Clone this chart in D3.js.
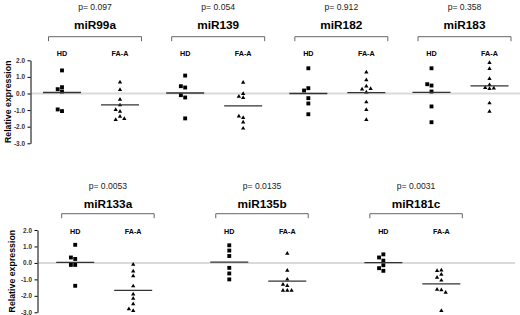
<!DOCTYPE html>
<html>
<head>
<meta charset="utf-8">
<script src="https://cdn.jsdelivr.net/npm/d3@7"></script>
<style>
  body { margin: 0; background: #fff; }
  text { font-family: "Liberation Sans", Arial, Helvetica, sans-serif; }
</style>
</head>
<body>
<div id="container"></div>
<script>
let w = 520;
let h = 315;

// data
let groups = ["HD", "FA-A"];
let yTicks = [2, 1, 0, -1, -2, -3];

let topNames = ["miR99a", "miR139", "miR182", "miR183"];
let topP = ["p= 0.097", "p= 0.054", "p= 0.912", "p= 0.358"];
let topHD = [
  [1.39, 0.38, 0.26, 0.12, -1.06, -0.96],
  [1.08, 0.36, 0.44, -0.24, -0.10, -1.50],
  [1.52, 0.32, 0.18, -0.28, -0.60, -1.25],
  [1.52, 0.48, 0.56, 0.12, -0.78, -1.73]
];
let topFA = [
  [0.68, 0.22, -0.36, -0.70, -1.08, -0.98, -1.39, -1.58, -1.52],
  [0.66, -0.02, -0.18, -0.26, -1.46, -1.37, -1.73, -2.10],
  [1.28, 0.82, 0.44, 0.26, 0.28, 0.08, -0.52, -0.98, -1.58],
  [1.85, 1.49, 0.89, 0.52, 0.28, 0.34, 0.32, -0.58, -1.08]
];
let topHDmean = [0.06, 0.03, 0.0, 0.07];
let topFAmean = [-0.69, -0.75, 0.05, 0.46];

let botNames = ["miR133a", "miR135b", "miR181c"];
let botP = ["p= 0.0053", "p= 0.0135", "p= 0.0031"];
let botHD = [
  [1.10, 0.24, 0.33, -0.12, -0.12, -1.39],
  [1.07, 0.75, 0.42, -0.30, -0.64, -1.00],
  [0.52, 0.33, 0.14, -0.14, -0.32, -0.48]
];
let botFA = [
  [-0.10, -0.50, -0.80, -1.41, -1.90, -2.16, -2.50, -2.90, -2.80],
  [0.57, -0.46, -1.00, -1.39, -1.31, -1.67, -1.67, -1.67],
  [-0.44, -0.48, -0.70, -0.88, -1.06, -1.65, -1.62, -1.80, -2.90]
];
let botHDmean = [0.03, 0.05, 0.02];
let botFAmean = [-1.67, -1.10, -1.27];

let viz = d3.select("#container").append("svg")
    .attr("width", w)
    .attr("height", h)
    .style("display", "block")
    .style("background-color", "white")
;

drawRow({
  names: topNames, pvals: topP, hd: topHD, fa: topFA, hdMean: topHDmean, faMean: topFAmean,
  yRange: [143.3, 60.3], xRange: [48.5, 511], padInner: 0.245,
  axisX: 30.5, zeroEnd: 520, labelX: 8,
  pY: 9.5, titleY: 29, bracketY: 36.7, groupY: 55.7
});

drawRow({
  names: botNames, pvals: botP, hd: botHD, fa: botFA, hdMean: botHDmean, faMean: botFAmean,
  yRange: [312.3, 230], xRange: [61.7, 462.3], padInner: 0.4,
  axisX: 37.5, zeroEnd: 515, labelX: 12,
  pY: 189, titleY: 208.3, bracketY: 213.7, groupY: 234.3
});

function drawRow(cfg){
  let yScale = d3.scaleLinear().domain([-3, 2]).range(cfg.yRange);
  let x0 = d3.scaleBand().domain(cfg.names).range(cfg.xRange).paddingInner(cfg.padInner);
  let x1 = d3.scalePoint().domain(groups).range([13.5, 71.5]);

  let row = viz.append("g");

  // zero line
  row.append("line")
      .attr("x1", cfg.axisX + 0.5).attr("x2", cfg.zeroEnd)
      .attr("y1", yScale(0)).attr("y2", yScale(0))
      .attr("stroke", "#dadada")
      .attr("stroke-width", 2)
  ;

  // y axis
  let yAxis = d3.axisLeft(yScale)
      .tickValues(yTicks)
      .tickFormat(d => d.toFixed(1))
      .tickSize(3)
      .tickSizeOuter(0)
      .tickPadding(2.5);
  let yAxisGroup = row.append("g")
      .attr("transform", "translate(" + cfg.axisX + ",0)")
      .call(yAxis);
  yAxisGroup.selectAll("text")
      .style("font-size", "6.4px")
      .style("font-weight", "bold")
      .attr("fill", "#333");
  yAxisGroup.selectAll("path, line").attr("stroke", "#000");

  row.append("text")
      .attr("transform", "translate(" + cfg.labelX + "," + ((cfg.yRange[0] + cfg.yRange[1]) / 2) + ") rotate(-90)")
      .attr("text-anchor", "middle")
      .attr("dy", "0.35em")
      .style("font-size", "8.8px")
      .style("font-weight", "bold")
      .text("Relative expression");

  cfg.names.forEach(function(name, i){
    let left = x0(name);
    let bw = x0.bandwidth();
    let cx = left + bw / 2;
    let panel = row.append("g").attr("class", "panel");

    panel.append("text")
        .attr("x", cx).attr("y", cfg.pY)
        .attr("text-anchor", "middle")
        .style("font-size", "8.6px")
        .attr("fill", "#222")
        .text(cfg.pvals[i]);

    panel.append("text")
        .attr("x", cx).attr("y", cfg.titleY)
        .attr("text-anchor", "middle")
        .style("font-size", "11.8px")
        .style("font-weight", "bold")
        .text(name);

    // bracket
    panel.append("path")
        .attr("d", "M" + left + "," + (cfg.bracketY + 4.5) + "V" + cfg.bracketY + "H" + (left + bw) + "V" + (cfg.bracketY + 4.5))
        .attr("fill", "none")
        .attr("stroke", "#666")
        .attr("stroke-width", 1);

    let series = [
      {g: "HD", vals: cfg.hd[i], mean: cfg.hdMean[i], shape: d3.symbolSquare, size: 15},
      {g: "FA-A", vals: cfg.fa[i], mean: cfg.faMean[i], shape: d3.symbolTriangle, size: 8}
    ];

    series.forEach(function(s){
      let gx = left + x1(s.g);

      panel.append("text")
          .attr("x", gx).attr("y", cfg.groupY)
          .attr("text-anchor", "middle")
          .style("font-size", "7.2px")
          .style("font-weight", "bold")
          .text(s.g);

      let pts = dodge(s.vals, yScale, 4.3, 3.8);

      panel.selectAll(".pt-" + s.g.replace("-", "")).data(pts).enter()
        .append("path")
          .attr("class", "pt-" + s.g.replace("-", ""))
          .attr("d", d3.symbol().type(s.shape).size(s.size))
          .attr("transform", d => "translate(" + (gx + d.dx) + "," + d.y + ")")
          .attr("fill", "#000")
      ;

      panel.append("line")
          .attr("x1", gx - 19).attr("x2", gx + 19)
          .attr("y1", yScale(s.mean)).attr("y2", yScale(s.mean))
          .attr("stroke", "#333")
          .attr("stroke-width", 1.3);
    });
  });
}

// spread points that would overlap sideways
function dodge(vals, yScale, step, minDy){
  let placed = [];
  let offsets = [0, -1, 1, -2, 2];
  vals.forEach(function(v){
    let y = yScale(v);
    for (let k = 0; k < offsets.length; k++){
      let dx = offsets[k] * step;
      let hit = placed.some(p => Math.abs(p.dx - dx) < step - 0.1 && Math.abs(p.y - y) < minDy);
      if (!hit || k === offsets.length - 1){
        placed.push({v: v, y: y, dx: dx});
        break;
      }
    }
  });
  return placed;
}
</script>
</body>
</html>
